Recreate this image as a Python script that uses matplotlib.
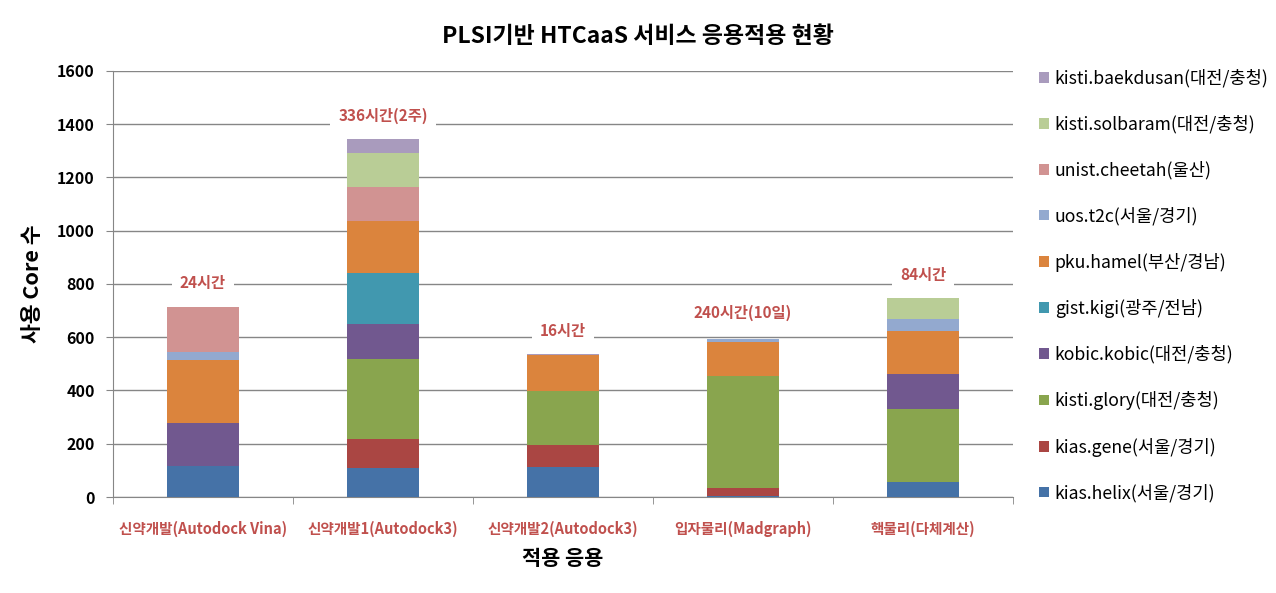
import numpy as np
import matplotlib.pyplot as plt

plt.rcParams['font.family'] = ['Noto Sans CJK KR', 'DejaVu Sans']

# 적용 응용 (categories)
apps = ['신약개발(Autodock Vina)', '신약개발1(Autodock3)', '신약개발2(Autodock3)',
        '입자물리(Madgraph)', '핵물리(다체계산)']
hours = ['24시간', '336시간(2주)', '16시간', '240시간(10일)', '84시간']

# 사용 core 수 per resource (bottom to top of the stack)
kias_helix = [118, 110, 114, 4, 57]
kias_gene = [0, 108, 82, 28, 0]
kisti_glory = [0, 300, 202, 424, 273]
kobic_kobic = [160, 130, 0, 0, 132]
gist_kigi = [0, 194, 0, 0, 0]
pku_hamel = [236, 196, 134, 127, 163]
uos_t2c = [30, 0, 0, 10, 43]
unist_cheetah = [168, 126, 0, 0, 0]
kisti_solbaram = [0, 128, 0, 0, 79]
kisti_baekdusan = [0, 52, 5, 0, 0]

series = [
    ('kias.helix(서울/경기)', kias_helix, '#4572A7'),
    ('kias.gene(서울/경기)', kias_gene, '#AA4643'),
    ('kisti.glory(대전/충청)', kisti_glory, '#89A54E'),
    ('kobic.kobic(대전/충청)', kobic_kobic, '#71588F'),
    ('gist.kigi(광주/전남)', gist_kigi, '#4198AF'),
    ('pku.hamel(부산/경남)', pku_hamel, '#DB843D'),
    ('uos.t2c(서울/경기)', uos_t2c, '#93A9CF'),
    ('unist.cheetah(울산)', unist_cheetah, '#D19392'),
    ('kisti.solbaram(대전/충청)', kisti_solbaram, '#B9CD96'),
    ('kisti.baekdusan(대전/충청)', kisti_baekdusan, '#A99BBD'),
]

fig = plt.figure(figsize=(12.76, 5.93), dpi=100)
ax = fig.add_axes([113 / 1276, 96 / 593, 900 / 1276, 426 / 593])

x = np.arange(len(apps))
bottom = np.zeros(len(apps))
for name, vals, color in series:
    ax.bar(x, vals, width=0.4, bottom=bottom, color=color, label=name, zorder=3)
    bottom += np.array(vals)

# 수행 시간 labels above each bar
label_y = [805, 1432, 625, 690, 835]
for xi, txt, ly in zip(x, hours, label_y):
    ax.text(xi, ly, txt, ha='center', va='center', fontsize=11, fontweight='bold',
            color='#C0504D', zorder=4,
            bbox=dict(facecolor='white', edgecolor='none', pad=6))

ax.set_xlim(-0.5, len(apps) - 0.5)
ax.set_ylim(0, 1600)
ax.set_yticks(np.arange(0, 1601, 200))
ax.yaxis.grid(True, color='#868686', linewidth=1, zorder=0)
ax.set_xticks(x)
ax.set_xticklabels(apps, fontsize=10.5, fontweight='bold', color='#C0504D')
ax.set_xticks(np.arange(-0.5, len(apps)), minor=True)
ax.tick_params(axis='x', which='major', length=0, pad=17)
ax.tick_params(axis='x', which='minor', length=5, color='#868686')
ax.tick_params(axis='y', length=5, color='#868686', labelsize=11.5, pad=8)
for lbl in ax.get_yticklabels():
    lbl.set_fontweight('bold')

for side in ['top', 'right']:
    ax.spines[side].set_visible(False)
for side in ['left', 'bottom']:
    ax.spines[side].set_color('#868686')

ax.set_xlabel('적용 응용', fontsize=15, fontweight='bold', labelpad=8)
ax.set_ylabel('사용 Core 수', fontsize=15.5, fontweight='bold', labelpad=10)
fig.suptitle('PLSI기반 HTCaaS 서비스 응용적용 현황', x=0.5, y=0.958,
             fontsize=16.5, fontweight='bold')

handles, labels = ax.get_legend_handles_labels()
fig.legend(handles[::-1], labels[::-1], loc='upper left',
           bbox_to_anchor=(1023 / 1276, 0.91), frameon=False, fontsize=12.7,
           handlelength=0.55, handleheight=0.55, handletextpad=0.35, labelspacing=1.55)

fig.savefig('out.png', dpi=100)
